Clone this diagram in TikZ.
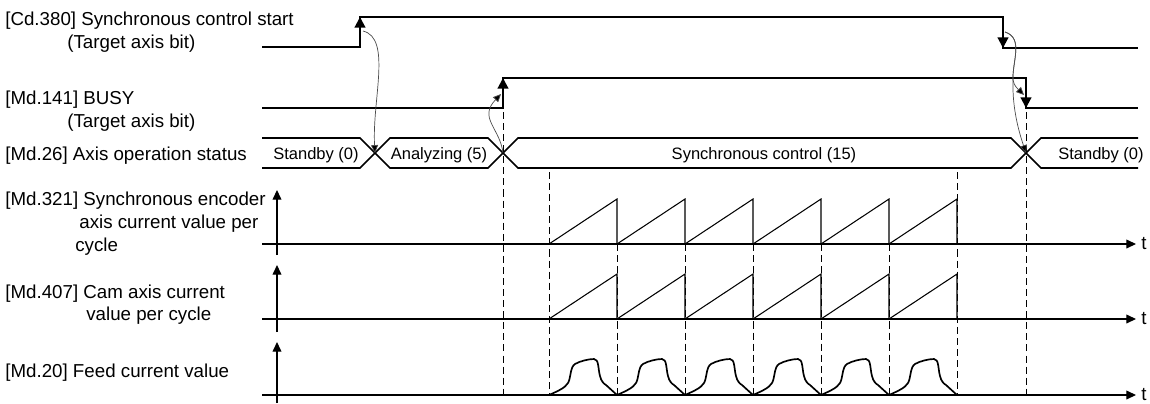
\documentclass[tikz,border=0pt]{standalone}
\usepackage{fontspec}
\setmainfont{Liberation Sans}
\usetikzlibrary{arrows.meta}
\begin{document}
\begin{tikzpicture}[x=0.02cm,y=-0.02cm,
 sig/.style={line width=1.2pt,line join=miter},
 bus/.style={line width=0.9pt,line join=miter},
 ax/.style={line width=0.7pt},
 axarr/.style={ax,-{Triangle[length=5.5pt,width=5pt]}},
 edgearr/.style={line width=1.2pt,-{Triangle[length=6pt,width=6pt]}},
 dsh/.style={line width=0.55pt,dash pattern=on 4pt off 2.3pt},
 saw/.style={line width=0.6pt},
 feed/.style={line width=0.95pt},
 cur/.style={line width=0.4pt,draw=black!70,-{Triangle[length=4.5pt,width=4pt,fill=black]}},
 lbl/.style={anchor=base west,inner sep=0pt,font=\fontsize{10.66pt}{13pt}\selectfont},
 bl/.style={anchor=base,inner sep=0pt,font=\fontsize{9.4pt}{11pt}\selectfont}]
\useasboundingbox (0,0) rectangle (1150,403);

% ---------- labels ----------
\node[lbl] (l1a) at (5,25) {[Cd.380] Synchronous control start};
\node[lbl] (l1b) at (67,48) {(Target axis bit)};
\node[lbl] (l2a) at (5,104) {[Md.141] BUSY};
\node[lbl] (l2b) at (67,127) {(Target axis bit)};
\node[lbl] (l3)  at (5,160) {[Md.26] Axis operation status};
\node[lbl] (l4a) at (5,205) {[Md.321] Synchronous encoder};
\node[lbl] (l4b) at (79,228) {axis current value per};
\node[lbl] (l4c) at (75,251) {cycle};
\node[lbl] (l5a) at (5,298) {[Md.407] Cam axis current};
\node[lbl] (l5b) at (86,320) {value per cycle};
\node[lbl] (l6)  at (5,377) {[Md.20] Feed current value};

% ---------- Cd.380 ----------
\coordinate (c0) at (262,47);
\coordinate (cr) at (360,47);
\coordinate (crt) at (360,17);
\coordinate (cft) at (1003,17);
\coordinate (cf) at (1003,48);
\coordinate (c1) at (1138,48);
\draw[sig] (c0) -- (cr) -- (crt) -- (cft) -- (cf) -- (c1);
\draw[edgearr] (cr) -- (crt);
\draw[edgearr] (cft) -- (cf);

% ---------- Md.141 ----------
\coordinate (b0) at (262,108);
\coordinate (br) at (503,108);
\coordinate (brt) at (503,78);
\coordinate (bft) at (1026,78);
\coordinate (bf) at (1026,108);
\coordinate (b1) at (1138,108);
\draw[sig] (b0) -- (br) -- (brt) -- (bft) -- (bf) -- (b1);
\draw[edgearr] (br) -- (brt);
\draw[edgearr] (bft) -- (bf);

% ---------- Md.26 bus ----------
\coordinate (x1) at (375,153);
\coordinate (x2) at (503,153);
\coordinate (x3) at (1026,153);
\draw[bus] (262,138) -- (360,138) -- (x1) -- (360,168) -- (262,168);
\draw[bus] (x1) -- (390,138) -- (488,138) -- (x2) -- (488,168) -- (390,168) -- cycle;
\draw[bus] (x2) -- (518,138) -- (1011,138) -- (x3) -- (1011,168) -- (518,168) -- cycle;
\draw[bus] (1138,138) -- (1041,138) -- (x3) -- (1041,168) -- (1138,168);
\node[bl] (s1) at (316,159) {Standby (0)};
\node[bl] (s2) at (439,159) {Analyzing (5)};
\node[bl] (s3) at (764,159) {Synchronous control (15)};
\node[bl] (s4) at (1101,159) {Standby (0)};

% ---------- dashed guides ----------
\foreach \xx in {503,1026} \draw[dsh] (\xx,112) -- (\xx,395);
\foreach \xx in {549,957} \draw[dsh] (\xx,172) -- (\xx,395);
\foreach \xx in {617,685,753,821,889} \draw[dsh] (\xx,244) -- (\xx,395);

% ---------- axes ----------
\foreach \ya/\yt/\yb/\nm in {244/190/255/a,319/265/332/b,395/342/403/c}{
  \coordinate (ha\nm) at (262,\ya);
  \coordinate (he\nm) at (1136,\ya);
  \draw[axarr] (ha\nm) -- (he\nm);
  \node[anchor=west,inner sep=0pt,font=\fontsize{10.66pt}{13pt}\selectfont] (t\nm) at (1141,\ya) {t};
  \draw[axarr] (277,\yb) -- (277,\yt);
}

% ---------- sawtooth ----------
\foreach \k in {0,...,5}{
  \pgfmathsetmacro\xo{549+68*\k}
  \draw[saw] (\xo,244) -- (\xo+68,199) -- (\xo+68,244);
  \draw[saw] (\xo,319) -- (\xo+68,274) -- (\xo+68,319);
  \draw[feed] (\xo,395) .. controls (\xo+9,391) and (\xo+16,388) .. (\xo+19,383)
     .. controls (\xo+22,378) and (\xo+21,367) .. (\xo+26,364)
     .. controls (\xo+31,361) and (\xo+40,359) .. (\xo+45,359)
     .. controls (\xo+50,359) and (\xo+49,369) .. (\xo+51,376)
     .. controls (\xo+52,381) and (\xo+55,384) .. (\xo+57,385)
     -- (\xo+68,395);
}

% ---------- causal arrows ----------
\coordinate (k1) at (363,31);
\draw[cur] (k1) .. controls (392,38) and (372,100) .. (x1);
\draw[cur] (x2) .. controls (500,128) and (478,118) .. (501,94);
\coordinate (k3) at (1005,32);
\coordinate (k4) at (1013,80);
\coordinate (k5) at (1024,95);
\draw[cur] (k3) .. controls (1024,38) and (1012,62) .. (k4) .. controls (1014,86) and (1018,89) .. (k5);
\draw[cur] (k3) .. controls (1024,38) and (1012,62) .. (k4) .. controls (1012,110) and (1020,135) .. (x3);
\end{tikzpicture}
\end{document}
